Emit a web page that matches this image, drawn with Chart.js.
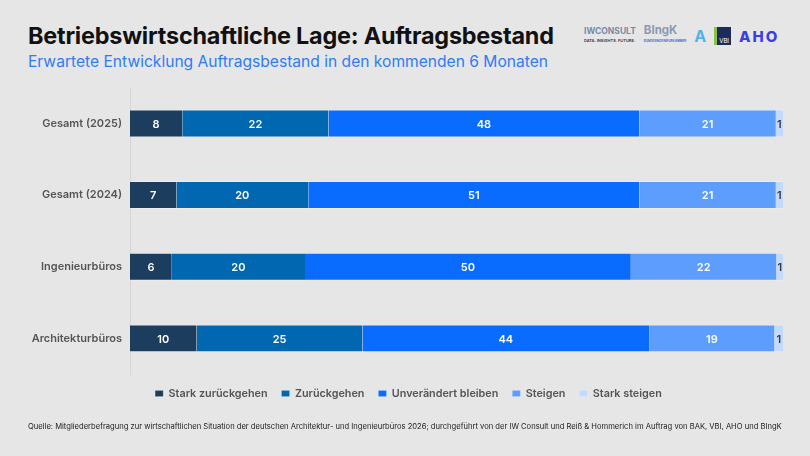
<!DOCTYPE html>
<html lang="de">
<head>
<meta charset="utf-8">
<script src="https://cdn.jsdelivr.net/npm/chart.js@4.4.1/dist/chart.umd.min.js"></script>
<style>
  html, body { margin: 0; padding: 0; background: #e6e6e6; }
  body { width: 810px; height: 456px; position: relative; overflow: hidden; font-family: "Inter", "Noto Sans", sans-serif; }
  #title { position: absolute; left: 28px; top: 21px; font-size: 23.4px; font-weight: 700; color: #111; letter-spacing: -0.2px; }
  #subtitle { position: absolute; left: 28px; top: 52px; font-size: 15.6px; color: #2f7cf6; }
  #logos { position: absolute; left: 584px; top: 25px; height: 22px; display: flex; align-items: center; gap: 8px; }
  .iw { font-size: 8.5px; font-weight: 700; color: #7a8aa8; line-height: 9px; }
  .iw small { display: block; font-size: 4px; color: #333; font-weight: 600; }
  .bingk { font-size: 11.5px; font-weight: 700; color: #8a9bb3; line-height: 11px; }
  .bingk small { display: block; font-size: 3px; color: #4a6fc7; }
  .a { font-size: 16px; font-weight: 700; color: #4fb4ee; }
  .vbi { background: #1d2b5c; color: #fff; font-size: 6px; padding: 10px 2px 1px; border-left: 3px solid #8bc34a; }
  .aho { font-size: 15px; font-weight: 800; color: #3b3fe0; letter-spacing: 2px; }
  #wrap { position: absolute; left: 0; top: 73px; width: 810px; height: 350px; }
  #source { position: absolute; left: 28px; top: 422px; font-size: 7.6px; color: #222; white-space: nowrap; }
</style>
</head>
<body>
<div id="title">Betriebswirtschaftliche Lage: Auftragsbestand</div>
<div id="subtitle">Erwartete Entwicklung Auftragsbestand in den kommenden 6 Monaten</div>
<div id="logos">
  <div class="iw">IWCONSULT<small>DATA. INSIGHTS. FUTURE.</small></div>
  <div class="bingk">BIngK<small>BUNDESINGENIEURKAMMER</small></div>
  <div class="a">A</div>
  <div class="vbi">VBI</div>
  <div class="aho">AHO</div>
</div>
<div id="wrap"><canvas id="myChart"></canvas></div>
<div id="source">Quelle: Mitgliederbefragung zur wirtschaftlichen Situation der deutschen Architektur- und Ingenieurbüros 2026; durchgeführt von der IW Consult und Reiß &amp; Hommerich im Auftrag von BAK, VBI, AHO und BIngK</div>

<script>
let categories = ["Gesamt (2025)", "Gesamt (2024)", "Ingenieurbüros", "Architekturbüros"];
let seriesNames = ["Stark zurückgehen", "Zurückgehen", "Unverändert bleiben", "Steigen", "Stark steigen"];
let barColors = ["#1c3d5e", "#0067b0", "#0a6cff", "#5c9dfe", "#c3d9fd"];

// shares in percent (labels show rounded values)
let starkZurueck = [8.0, 7.1, 6.4, 10.2];
let zurueck = [22.4, 20.2, 20.4, 25.4];
let unveraendert = [47.6, 50.7, 49.9, 43.9];
let steigen = [20.9, 20.9, 22.3, 19.2];
let starkSteigen = [1.1, 1.1, 1.0, 1.3];

let series = [starkZurueck, zurueck, unveraendert, steigen, starkSteigen];

// draws the value inside each segment
const barLabels = {
    id: "barLabels",
    afterDatasetsDraw(chart) {
        const ctx = chart.ctx;
        ctx.save();
        ctx.font = "600 11px Inter, 'Noto Sans', sans-serif";
        ctx.textAlign = "center";
        ctx.textBaseline = "middle";
        chart.data.datasets.forEach((ds, i) => {
            chart.getDatasetMeta(i).data.forEach((bar, j) => {
                const x = (bar.x + bar.base) / 2;
                ctx.fillStyle = i == 4 ? "#3a3a3a" : "#ffffff";
                ctx.fillText(Math.round(ds.data[j]), x, bar.y + 1);
            });
        });
        ctx.restore();
    }
};

// legend in the reference sits a bit right of the canvas centre
const legendShift = {
    id: "legendShift",
    afterLayout(chart) {
        chart.legend.left += 17;
        chart.legend.right += 17;
    }
};

new Chart("myChart", {
    type: "bar",
    data: {
        labels: categories,
        datasets: series.map((vals, i) => ({
            label: seriesNames[i],
            data: vals,
            backgroundColor: barColors[i],
            borderColor: "rgba(255,255,255,0.3)",
            borderWidth: { top: 1, bottom: 1, left: 0, right: 0 },
            borderSkipped: false,
            barPercentage: 0.39,
            categoryPercentage: 1.0
        }))
    },
    options: {
        indexAxis: "y",
        responsive: true,
        maintainAspectRatio: false,
        animation: false,
        layout: { padding: { top: 1, right: 27, left: 0, bottom: 14 } },
        scales: {
            x: {
                stacked: true,
                min: 0,
                max: 100,
                display: false
            },
            y: {
                stacked: true,
                afterFit(scale) { scale.width = 130; },
                grid: { display: false, drawTicks: false },
                border: { display: true, color: "#d6d6d6" },
                ticks: {
                    color: "#555",
                    padding: 8,
                    font: { family: "Inter, 'Noto Sans', sans-serif", size: 11, weight: "600" }
                }
            }
        },
        plugins: {
            legend: {
                position: "bottom",
                labels: {
                    boxWidth: 8,
                    boxHeight: 6,
                    padding: 14,
                    color: "#555",
                    font: { family: "Inter, 'Noto Sans', sans-serif", size: 10.8, weight: "600" }
                }
            },
            tooltip: { enabled: false }
        }
    },
    plugins: [barLabels, legendShift]
});
</script>
</body>
</html>
